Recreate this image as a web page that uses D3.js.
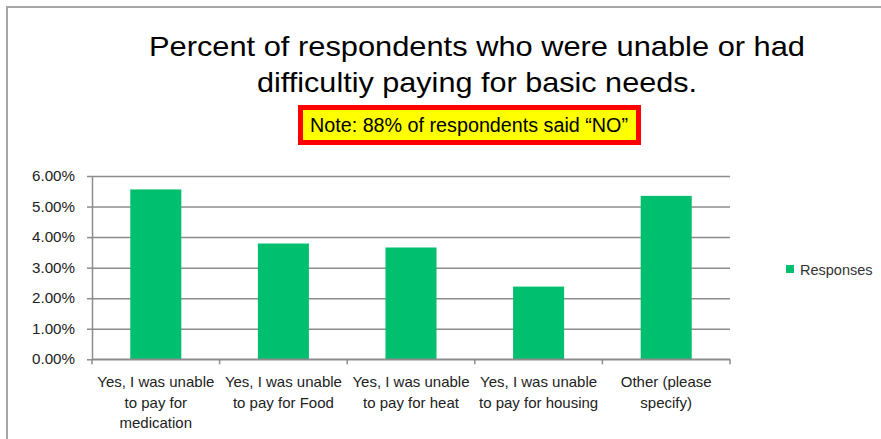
<!DOCTYPE html>
<html>
<head>
<meta charset="utf-8">
<script src="https://cdn.jsdelivr.net/npm/d3@7"></script>
<style>
    body { margin: 0; background: #fff; }
    svg { display: block; font-family: "Liberation Sans", Arial, sans-serif; }
</style>
</head>
<body>
<svg id="chart" width="881" height="439"></svg>
<script>
// data
const categories = [
    ["Yes, I was unable", "to pay for", "medication"],
    ["Yes, I was unable", "to pay for Food"],
    ["Yes, I was unable", "to pay for heat"],
    ["Yes, I was unable", "to pay for housing"],
    ["Other (please", "specify)"]
];
const responses = [5.56, 3.79, 3.66, 2.38, 5.35];
const yTicks = [0, 1, 2, 3, 4, 5, 6];
const titleLines = ["Percent of respondents who were unable or had", "difficultiy paying for basic needs."];
const noteText = "Note: 88% of respondents said \u201cNO\u201d";
const seriesName = "Responses";

const svg = d3.select("#chart");
const green = "#00bf6f";
const grid = "#8c8c8c";

// outer frame
svg.append("path")
    .attr("d", "M7,439V7H881")
    .attr("fill", "none")
    .attr("stroke", "#a6a6a6")
    .attr("stroke-width", 2);

// title
let title = svg.append("g").attr("class", "title");
title.selectAll("text").data(titleLines).enter().append("text")
    .attr("x", 477)
    .attr("y", function (d, i) { return 56 + i * 36; })
    .attr("text-anchor", "middle")
    .style("font-size", "28px")
    .attr("fill", "#000")
    .attr("textLength", function (d, i) { return i == 0 ? 656 : 440; })
    .attr("lengthAdjust", "spacingAndGlyphs")
    .text(function (d) { return d; });

// note box
let note = svg.append("g").attr("class", "note");
note.append("rect")
    .attr("x", 300.5).attr("y", 107.5)
    .attr("width", 338).attr("height", 35)
    .attr("fill", "#ffff00")
    .attr("stroke", "#ff0000")
    .attr("stroke-width", 5);
note.append("text")
    .attr("x", 469).attr("y", 132)
    .attr("text-anchor", "middle")
    .style("font-size", "19.5px")
    .attr("textLength", 318)
    .attr("lengthAdjust", "spacingAndGlyphs")
    .attr("fill", "#000")
    .text(noteText);

// plot area
const plot = { left: 92, right: 730, top: 176, bottom: 359.3 };

const x = d3.scaleBand()
    .domain(d3.range(categories.length))
    .range([plot.left, plot.right])
    .paddingInner(0.6)
    .paddingOuter(0.3);

const y = d3.scaleLinear()
    .domain([0, 6])
    .range([plot.bottom, plot.top]);

// gridlines
svg.append("g")
    .attr("class", "grid")
    .attr("transform", "translate(" + plot.left + ",0)")
    .call(d3.axisLeft(y).tickValues(yTicks).tickSize(-(plot.right - plot.left)).tickFormat(""))
    .call(function (g) { g.select(".domain").remove(); })
    .selectAll("line")
    .attr("stroke", grid)
    .attr("stroke-width", 1.5);

// y axis
let yAxis = svg.append("g")
    .attr("class", "y-axis")
    .attr("transform", "translate(" + plot.left + ",0)")
    .call(d3.axisLeft(y).tickValues(yTicks).tickSize(5).tickSizeOuter(0).tickPadding(12)
        .tickFormat(function (d) { return d.toFixed(2) + "%"; }));
yAxis.select(".domain").attr("stroke", grid).attr("stroke-width", 1.5);
yAxis.selectAll("line").attr("stroke", grid).attr("stroke-width", 1.5);
yAxis.selectAll("text")
    .style("font-size", "14.5px")
    .style("font-family", "\"Liberation Sans\", Arial, sans-serif")
    .attr("fill", "#222")
    .attr("textLength", 43)
    .attr("lengthAdjust", "spacingAndGlyphs");

// bars
svg.append("g").attr("class", "bars")
    .selectAll("rect").data(responses).enter().append("rect")
    .attr("x", function (d, i) { return x(i); })
    .attr("width", x.bandwidth())
    .attr("y", function (d) { return y(d); })
    .attr("height", function (d) { return y(0) - y(d); })
    .attr("fill", green);

// x axis
let xAxis = svg.append("g").attr("class", "x-axis");
xAxis.append("line")
    .attr("x1", plot.left).attr("x2", plot.right)
    .attr("y1", y(0)).attr("y2", y(0))
    .attr("stroke", grid).attr("stroke-width", 1.5);
let bounds = d3.range(categories.length + 1).map(function (i) { return plot.left + i * (plot.right - plot.left) / categories.length; });
xAxis.selectAll(".tick").data(bounds).enter().append("line")
    .attr("class", "tick")
    .attr("x1", function (d) { return d; }).attr("x2", function (d) { return d; })
    .attr("y1", y(0)).attr("y2", y(0) + 5)
    .attr("stroke", grid).attr("stroke-width", 1.5);

let labels = xAxis.selectAll(".label").data(categories).enter().append("text")
    .attr("class", "label")
    .attr("text-anchor", "middle")
    .style("font-size", "15px")
    .attr("fill", "#222");
labels.selectAll("tspan").data(function (d, i) { return d.map(function (t) { return { t: t, i: i }; }); })
    .enter().append("tspan")
    .attr("x", function (d) { return x(d.i) + x.bandwidth() / 2; })
    .attr("y", function (d, j) { return 387 + j * 20.5; })
    .text(function (d) { return d.t; });

// legend
let legend = svg.append("g").attr("class", "legend").attr("transform", "translate(786,265)");
legend.append("rect").attr("width", 8).attr("height", 8).attr("fill", green);
legend.append("text")
    .attr("x", 14).attr("y", 9.5)
    .style("font-size", "14.5px")
    .attr("fill", "#333")
    .text(seriesName);
</script>
</body>
</html>
